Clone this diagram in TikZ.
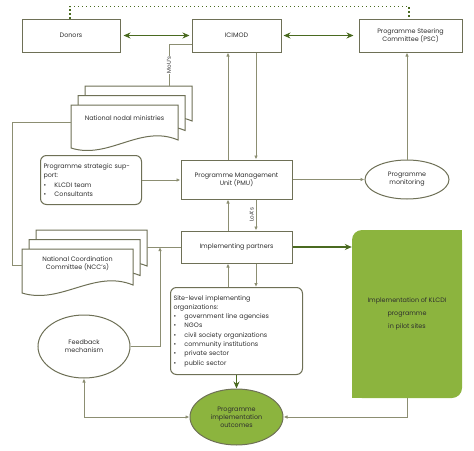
\documentclass[tikz,border=0pt]{standalone}
\usepackage{fontspec}
\setmainfont{Poppins}
\usetikzlibrary{arrows.meta, shapes.geometric}

\definecolor{boxline}{HTML}{6E7056}
\definecolor{connline}{HTML}{8C8E72}
\definecolor{darkgreen}{HTML}{4A6A20}
\definecolor{klgreen}{HTML}{8CB43E}
\definecolor{txt}{HTML}{2E2E2E}

\tikzset{
  box/.style={draw=boxline, line width=1pt, fill=white, minimum height=33pt, align=center, inner sep=2pt},
  roundbox/.style={draw=boxline, line width=1pt, fill=white, rounded corners=6pt, align=left, anchor=north west, inner sep=3pt, font=\fontsize{6.4}{9.3}\selectfont},
  oval/.style={ellipse, draw=boxline, line width=1pt, fill=white, align=center, inner sep=0pt},
  sheet/.style={draw=boxline, line width=1pt, fill=white},
  link/.style={draw=connline, line width=0.9pt},
  arr/.style={link, -{Latex[length=4pt, width=3.5pt]}},
  biglink/.style={draw=darkgreen, line width=1.8pt},
  bigarr/.style={biglink, -{Stealth[length=7pt, width=6pt]}},
  dotlink/.style={draw=darkgreen, line width=1.3pt, dash pattern=on 1.3pt off 2.7pt},
  vlabel/.style={rotate=90, fill=white, inner sep=1pt, font=\fontsize{5.6}{6}\selectfont},
}

% one sheet with a wavy lower edge
\newcommand{\docsheet}[4]{%
  \filldraw[sheet] (#1,#2) -- (#1+#3,#2) -- (#1+#3,#2+#4-8)
    .. controls (#1+0.65*#3,#2+#4-24) and (#1+0.35*#3,#2+#4+12) .. (#1,#2+#4) -- cycle;}
\newcommand{\bullitem}[1]{\makebox[11pt][l]{\textbullet}#1}

\begin{document}
\begin{tikzpicture}[x=1pt, y=-1pt, font=\fontsize{6.4}{7.8}\selectfont, text=txt]
    \useasboundingbox (0,0) rectangle (474,450);

    % Top row
    \node[box, minimum width=98pt] (donors) at (71,35.5) {Donors};
    \node[box, minimum width=89pt] (icimod) at (236.5,35.5) {ICIMOD};
    \node[box, minimum width=103pt] (psc) at (410.5,35.5) {Programme Steering\\Committee (PSC)};

    \draw[dotlink] ([xshift=-1pt]donors.north) -- ++(0,-12) -| ([xshift=-1.5pt]psc.north);
    \draw[biglink, {Stealth[length=7pt, width=6pt]}-{Stealth[length=7pt, width=6pt]}, shorten <=3pt, shorten >=2pt] (donors) -- (icimod);
    \draw[biglink, {Stealth[length=7pt, width=6pt]}-{Stealth[length=7pt, width=6pt]}, shorten <=2pt, shorten >=5pt] (icimod) -- (psc);

    % National nodal ministries (stack of sheets)
    \docsheet{85}{86}{107}{43}
    \docsheet{78}{95.5}{107}{43}
    \docsheet{71}{105}{107}{43}
    \node (nodal) at (124.5,118) {National nodal ministries};
    \coordinate (nodaltop) at (169,86);
    \coordinate (nodalleft) at (71,122);

    % National Coordination Committee (stack of sheets)
    \docsheet{36}{230}{111}{44}
    \docsheet{29}{239.5}{111}{44}
    \docsheet{22}{249}{111}{44}
    \node[align=center] (ncc) at (77.5,264) {National Coordination\\Committee (NCC's)};
    \coordinate (nccleft) at (22,265);
    \coordinate (nccright) at (147,247);

    % Middle row
    \node[roundbox, text width=95pt, minimum height=49pt] (support) at (40,155) {Programme strategic sup-\\port:\\\bullitem{KLCDI team}\\\bullitem{Consultants}};
    \node[box, minimum width=111pt, minimum height=39pt] (pmu) at (236.5,179.5) {Programme Management\\Unit (PMU)};
    \node[oval, minimum width=84pt, minimum height=39pt] (monitor) at (407,179.5) {Programme\\monitoring};

    % Lower part
    \node[box, minimum width=111pt, minimum height=32pt] (ip) at (236.5,247) {Implementing partners};
    \node[roundbox, text width=126pt, minimum height=87pt] (site) at (170,287) {Site-level implementing\\organizations:\\\bullitem{government line agencies}\\\bullitem{NGOs}\\\bullitem{civil society organizations}\\\bullitem{community institutions}\\\bullitem{private sector}\\\bullitem{public sector}};
    \node[fill=klgreen, rounded corners=10pt, minimum width=110pt, minimum height=168pt, align=center] (green) at (407,314) {Implementation of KLCDI\\[5pt]programme\\[5pt]in pilot sites};
    \fill[klgreen] ([xshift=-12pt]green.north east) rectangle ([yshift=-12pt]green.north east);
    \fill[klgreen] ([xshift=12pt]green.south west) rectangle ([yshift=12pt]green.south west);
    \node[oval, minimum width=92pt, minimum height=63pt] (feedback) at (84,346.5) {Feedback\\mechanism};
    \node[oval, fill=klgreen, minimum width=93pt, minimum height=56pt] (outcome) at (236.5,417) {Programme\\implementation\\outcomes};
    \coordinate (join) at (160,247);

    % Connectors
    \draw[link] ([yshift=-8.5pt]icimod.west) -| (nodaltop) node[pos=0.75, vlabel] {MoU's};
    \draw[arr] ([xshift=-8.5pt]pmu.north) -- ([xshift=-8.5pt]icimod.south);
    \draw[arr] ([xshift=19.5pt]icimod.south) -- ([xshift=19.5pt]pmu.north);
    \draw[arr] (monitor.north) -- (monitor.north |- psc.south);
    \draw[arr] (support.east) -- (support.east -| pmu.west);
    \draw[arr] (pmu.east) -- (monitor.west);
    \draw[arr] ([xshift=-8.5pt]ip.north) -- ([xshift=-8.5pt]pmu.south);
    \draw[arr] ([xshift=19.5pt]pmu.south) -- ([xshift=19.5pt]ip.north) node[midway, rotate=90, anchor=south, inner sep=2pt, font=\fontsize{5.6}{6}\selectfont] {LoA's};
    \draw[arr] ([xshift=-8.5pt]site.north -| ip.south) -- ([xshift=-8.5pt]ip.south);
    \draw[arr] ([xshift=19.5pt]ip.south) -- ([xshift=19.5pt]ip.south |- site.north);
    \draw[bigarr] (ip.east) -- (ip.east -| green.west);
    \draw[link] (ip.west) -- (nccright);
    \draw[link] (nodalleft) -- ++(-59,0) |- (nccleft);
    \draw[arr] (feedback.east) -| (join);
    \draw[bigarr] (site.south -| outcome.north) -- (outcome.north);
    \draw[link, {Latex[length=4pt, width=3.5pt]}-{Latex[length=4pt, width=3.5pt]}] (feedback.south) |- (outcome.west);
    \draw[arr] (green.south) |- (outcome.east);
  \end{tikzpicture}
\end{document}
